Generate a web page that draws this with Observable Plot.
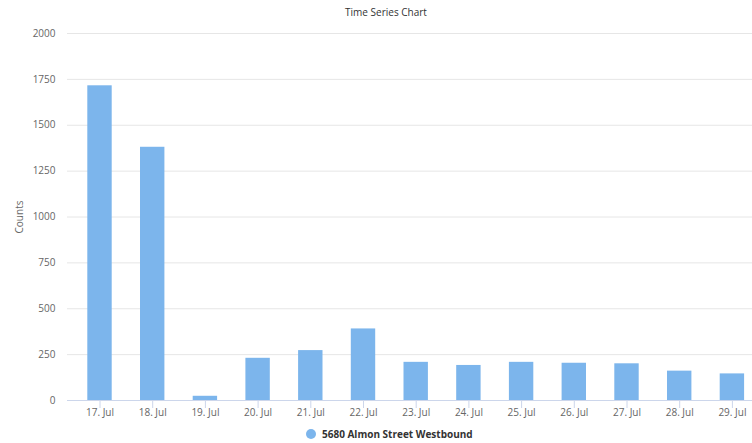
<!DOCTYPE html>
<html>
<head>
<meta charset="utf-8">
<script src="https://cdn.jsdelivr.net/npm/d3@7"></script>
<script src="https://cdn.jsdelivr.net/npm/@observablehq/plot@0.6"></script>
<style>
  html, body { margin: 0; padding: 0; background: #fff; overflow: hidden; }
  body { width: 752px; height: 443px; font-family: "Open Sans", sans-serif; }
  #title { height: 22px; line-height: 24px; text-align: center; font-size: 10px; color: #333; padding-left: 20px; box-sizing: border-box; }
  #legend { height: 23px; display: flex; align-items: center; justify-content: flex-start; padding-left: 306px; padding-top: 4px; box-sizing: border-box; font-size: 10px; font-weight: bold; color: #333; }
  #legend .dot { width: 10px; height: 10px; border-radius: 50%; background: #7cb5ec; margin-right: 6px; }
</style>
</head>
<body>
<div id="title">Time Series Chart</div>
<div id="chart"></div>
<div id="legend"><span class="dot"></span><span>5680 Almon Street Westbound</span></div>
<script>
const categories = ["17. Jul","18. Jul","19. Jul","20. Jul","21. Jul","22. Jul","23. Jul","24. Jul","25. Jul","26. Jul","27. Jul","28. Jul","29. Jul"];
const counts = [1715, 1380, 23, 230, 272, 390, 208, 191, 208, 203, 200, 160, 145];
const yTicks = [0, 250, 500, 750, 1000, 1250, 1500, 1750, 2000];
const seriesName = "5680 Almon Street Westbound";

const data = categories.map((c, i) => ({date: c, count: counts[i]}));

const chart = Plot.plot({
  width: 752,
  height: 398,
  marginTop: 11,
  marginBottom: 20,
  marginLeft: 67,
  marginRight: 0,
  style: {fontFamily: "'Open Sans', sans-serif", fontSize: "10px", color: "#666", background: "#fff"},
  x: {type: "band", domain: categories, range: [73.15, 758.25], paddingInner: 0.537, paddingOuter: 0.2685, round: false, label: null},
  y: {domain: [0, 2000], ticks: yTicks, label: null},
  marks: [
    Plot.gridY(yTicks, {stroke: "#e6e6e6", strokeOpacity: 1}),
    Plot.barY(data, {x: "date", y: "count", fill: "#7cb5ec"}),
    Plot.ruleY([0], {stroke: "#ccd6eb"}),
    Plot.axisX({tickSize: 8, tickPadding: 0, stroke: "#ccd6eb", fill: "#666", label: null}),
    Plot.axisY({ticks: yTicks, tickSize: 0, tickPadding: 12, tickFormat: d => String(d), fill: "#666",
      label: "Counts", labelAnchor: "center", labelArrow: false, labelOffset: 52})
  ]
});
document.getElementById("chart").appendChild(chart);
</script>
</body>
</html>
